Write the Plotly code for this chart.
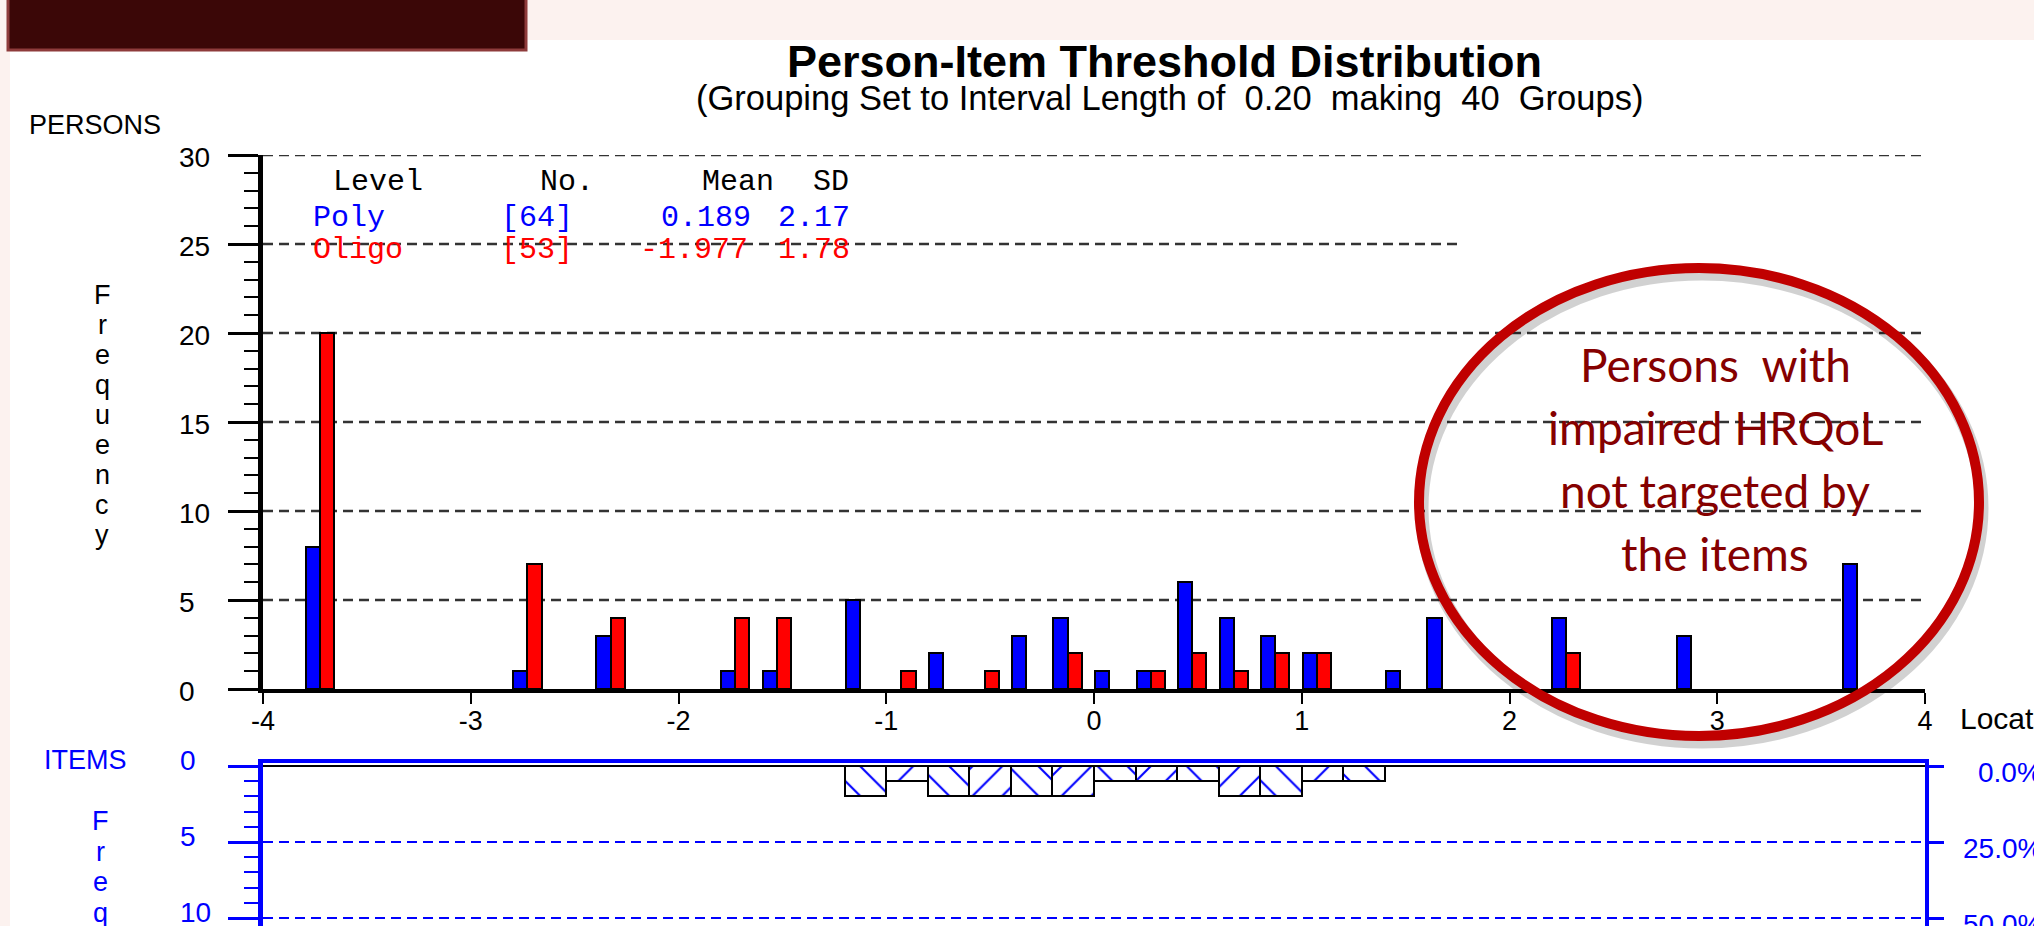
import plotly.graph_objects as go

# ---------------- data ----------------
# 40 groups of width 0.20 from -4 to 4 (lower bound of each group)
group_start = [round(-4 + 0.2 * i, 1) for i in range(40)]

poly_counts = [0, 8, 0, 0, 0, 0, 1, 0, 3, 0,
               0, 1, 1, 0, 5, 0, 2, 0, 3, 4,
               1, 1, 6, 4, 3, 2, 0, 1, 4, 0,
               0, 4, 0, 0, 3, 0, 0, 0, 7, 0]
oligo_counts = [0, 20, 0, 0, 0, 0, 7, 0, 4, 0,
                0, 4, 4, 0, 0, 1, 0, 1, 0, 2,
                0, 1, 2, 1, 2, 2, 0, 0, 0, 0,
                0, 2, 0, 0, 0, 0, 0, 0, 0, 0]
item_counts = [0, 0, 0, 0, 0, 0, 0, 0, 0, 0,
               0, 0, 0, 0, 2, 1, 2, 2, 2, 2,
               1, 1, 1, 2, 2, 1, 1, 0, 0, 0,
               0, 0, 0, 0, 0, 0, 0, 0, 0, 0]

x_ticks = [-4, -3, -2, -1, 0, 1, 2, 3, 4]
x_tick_labels = ["-4", "-3", "-2", "-1", "0", "1", "2", "3", "4"]
person_yticks = [0, 5, 10, 15, 20, 25, 30]
item_yticks = [0, 5, 10]
pct_ticks = [0, 25, 50]
pct_labels = ["0.0%", "25.0%", "50.0%"]

legend_header = ["Level", "No.", "Mean", "SD"]
legend_poly = ["Poly", "[64]", "0.189", "2.17"]
legend_oligo = ["Oligo", "[53]", "-1.977", "1.78"]

title = "Person-Item Threshold Distribution"
subtitle = "(Grouping Set to Interval Length of  0.20  making  40  Groups)"
callout = ["Persons  with", "impaired HRQoL", "not targeted by", "the items"]

# ---------------- geometry / style ----------------
W, H = 2034, 926
PL, PR = 263, 1925          # plot area left/right in px


def pxx(px):
    return (px - PL) / (PR - PL)


def pxy(py):
    return (H - py) / H


ARIAL = "Arial, Liberation Sans, sans-serif"
MONO = "Courier New, Liberation Mono, monospace"
BLUE = "#0000FF"
RED = "#FF0000"

fig = go.Figure()

nz = lambda arr: [v if v else None for v in arr]

fig.add_trace(go.Bar(x=group_start, y=nz(poly_counts), width=0.068, offset=0.005,
                     marker=dict(color=BLUE, line=dict(color="black", width=2)),
                     xaxis="x", yaxis="y", name="Poly"))
fig.add_trace(go.Bar(x=group_start, y=nz(oligo_counts), width=0.068, offset=0.073,
                     marker=dict(color=RED, line=dict(color="black", width=2)),
                     xaxis="x", yaxis="y", name="Oligo"))

hatch = ["\\" if i % 2 == 0 else "/" for i in range(40)]
fig.add_trace(go.Bar(x=group_start, y=nz(item_counts), width=0.2, offset=0,
                     marker=dict(color="white", line=dict(color="black", width=2),
                                 pattern=dict(shape=hatch, fgcolor=BLUE, bgcolor="white",
                                              size=21, solidity=0.1, fillmode="replace")),
                     xaxis="x2", yaxis="y2", name="Items"))

# same item distribution expressed in percent (drives the right-hand axis)
n_items = sum(item_counts)
item_pct = [c * 100.0 / n_items for c in item_counts]
fig.add_trace(go.Bar(x=group_start, y=nz(item_pct), width=0.2, offset=0,
                     marker=dict(color="rgba(0,0,0,0)", line=dict(width=0)),
                     hoverinfo="skip", xaxis="x2", yaxis="y3", name="Items %"))

y2_range = [10.52, -0.2]
y3_range = [v * 100.0 / n_items for v in y2_range]

fig.update_layout(
    width=W, height=H, template="none",
    margin=dict(l=PL, r=W - PR, t=0, b=0, pad=0),
    paper_bgcolor="white", plot_bgcolor="rgba(0,0,0,0)",
    showlegend=False, barmode="overlay", bargap=0,
    font=dict(family=ARIAL, color="black"),
    xaxis=dict(domain=[0, 1], anchor="y", range=[-4, 4], tickvals=x_ticks,
               ticktext=x_tick_labels,
               showline=True, linecolor="black", linewidth=4, ticks="outside",
               ticklen=11, tickwidth=2, tickcolor="black", showgrid=False, zeroline=False,
               ticklabelstandoff=-6,
               tickfont=dict(size=27, family=ARIAL, color="black")),
    yaxis=dict(domain=[pxy(689), pxy(155)], anchor="x", range=[0, 30], tick0=0, dtick=5,
               showline=True, linecolor="black", linewidth=5, ticks="outside", ticklen=30,
               tickwidth=2.5, tickcolor="black", showticklabels=False, showgrid=False,
               zeroline=False,
               minor=dict(dtick=1, ticks="outside", ticklen=14, tickwidth=2,
                          tickcolor="black", showgrid=False)),
    xaxis2=dict(domain=[0, 1], anchor="y2", range=[-4, 4], side="top", showline=True,
                linecolor=BLUE, linewidth=4, ticks="", showticklabels=False,
                showgrid=False, zeroline=False),
    yaxis2=dict(domain=[0, pxy(763)], anchor="x2", range=y2_range, tick0=0, dtick=5,
                showline=True, linecolor=BLUE, linewidth=5, ticks="outside", ticklen=30,
                tickwidth=2.5, tickcolor=BLUE, showticklabels=False, showgrid=False,
                zeroline=False,
                minor=dict(dtick=1, ticks="outside", ticklen=14, tickwidth=2,
                           tickcolor=BLUE, showgrid=False)),
    yaxis3=dict(overlaying="y2", anchor="x2", side="right", range=y3_range,
                tickvals=pct_ticks, showticklabels=False, showline=True, linecolor=BLUE,
                linewidth=4, ticks="outside", ticklen=15, tickwidth=2.5, tickcolor=BLUE,
                showgrid=False, zeroline=False),
)

shapes = []
# page background decorations
shapes.append(dict(type="rect", xref="paper", yref="paper", x0=pxx(-5), x1=pxx(W + 5),
                   y0=pxy(40), y1=pxy(-5), fillcolor="#FCF2EF", line=dict(width=0),
                   layer="below"))
shapes.append(dict(type="rect", xref="paper", yref="paper", x0=pxx(-5), x1=pxx(10),
                   y0=pxy(H + 5), y1=pxy(-5), fillcolor="#FCF2EF", line=dict(width=0),
                   layer="below"))
shapes.append(dict(type="rect", xref="paper", yref="paper", x0=pxx(8), x1=pxx(526),
                   y0=pxy(50), y1=pxy(-8), fillcolor="#3B0707",
                   line=dict(color="#8E3B3B", width=3), layer="above"))

# person gridlines
grid_vals = [5, 10, 15, 20, 25, 30]
grid_end = [4, 4, 4, 4, 1.757, 4]
for v, e in zip(grid_vals, grid_end):
    shapes.append(dict(type="line", xref="x", yref="y", x0=-4, x1=e, y0=v, y1=v,
                       line=dict(color="#333333", width=2.5, dash="10px,6px"), layer="below"))
# item gridlines
for v in [5, 10]:
    shapes.append(dict(type="line", xref="x2", yref="y2", x0=-4, x1=4, y0=v, y1=v,
                       line=dict(color=BLUE, width=2, dash="10px,6px"), layer="below"))
shapes.append(dict(type="line", xref="x2", yref="y2", x0=-4, x1=4, y0=0, y1=0,
                   line=dict(color="black", width=2), layer="above"))

# callout ellipse (shadow + ring)
cx0, cx1, cy0, cy1 = 1419, 1979, 268, 736
shapes.append(dict(type="circle", xref="paper", yref="paper",
                   x0=pxx(cx0 + 3), x1=pxx(cx1 + 3), y0=pxy(cy1 + 6), y1=pxy(cy0 + 6),
                   line=dict(color="rgba(0,0,0,0.18)", width=13), layer="above"))
shapes.append(dict(type="circle", xref="paper", yref="paper",
                   x0=pxx(cx0), x1=pxx(cx1), y0=pxy(cy1), y1=pxy(cy0),
                   line=dict(color="#C00000", width=10), layer="above"))
fig.update_layout(shapes=shapes)

ann = []


def text(t, px, py, size, color="black", family=ARIAL, xanchor="center", yanchor="middle"):
    ann.append(dict(text=t, xref="paper", yref="paper", x=pxx(px), y=pxy(py),
                    showarrow=False, xanchor=xanchor, yanchor=yanchor,
                    font=dict(size=size, color=color, family=family)))


text("<b>" + title + "</b>", 1164, 61, 45)
text(subtitle, 1169, 98, 34.5)
text("PERSONS", 27, 125, 27, xanchor="left")
text("ITEMS", 42, 760, 27, color=BLUE, xanchor="left")
text("Location", 1958, 718, 30, xanchor="left")

for k, ch in enumerate("Frequency"):
    text(ch, 102, 295 + 30 * k, 27)
for k, ch in enumerate("Freq"):
    text(ch, 100, 821 + 30.7 * k, 27, color=BLUE)

# y tick labels (left aligned as in the original)
for v in person_yticks:
    ann.append(dict(text=str(v), xref="paper", yref="y", x=pxx(177), y=v, yshift=-2,
                    showarrow=False, xanchor="left", yanchor="middle",
                    font=dict(size=28, family=ARIAL, color="black")))
for v in item_yticks:
    ann.append(dict(text=str(v), xref="paper", yref="y2", x=pxx(178), y=v, yshift=6,
                    showarrow=False, xanchor="left", yanchor="middle",
                    font=dict(size=28, family=ARIAL, color=BLUE)))
# right-hand percent labels (right aligned, running to the page edge)
for v, t in zip(pct_ticks, pct_labels):
    ann.append(dict(text=t, xref="paper", yref="y3", x=pxx(2044), y=v, yshift=-6,
                    showarrow=False, xanchor="right", yanchor="middle",
                    font=dict(size=28, family=ARIAL, color=BLUE)))

# legend table (monospace)
col_x_head = [331, 538, 700, 811]
col_x_poly = [311, 499, 659, 776]
col_x_oligo = [311, 499, 638, 776]
for row, xs, py, col in [(legend_header, col_x_head, 182, "black"),
                         (legend_poly, col_x_poly, 218, BLUE),
                         (legend_oligo, col_x_oligo, 250, RED)]:
    for t, px in zip(row, xs):
        text(t, px, py, 30, color=col, family=MONO, xanchor="left")

# callout text
for k, line in enumerate(callout):
    text(line, 1715, 364 + 63 * k, 46, color="#850000",
         family="Lato, Carlito, Open Sans, sans-serif")

fig.update_layout(annotations=ann)
fig.write_html("out.html",
               config={"displayModeBar": False},
               post_script="document.body.style.margin='0px';"
                           "document.body.style.overflow='hidden';")
